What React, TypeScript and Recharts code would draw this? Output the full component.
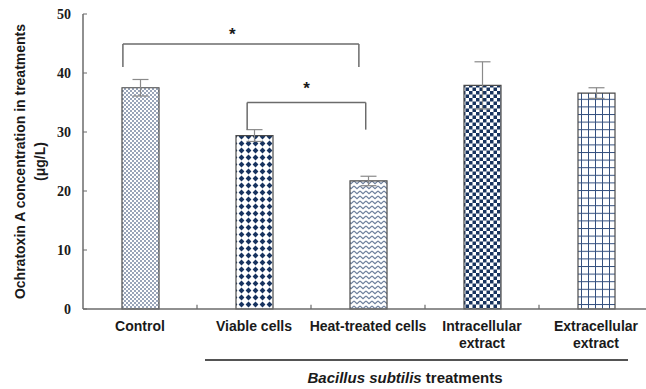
import React from 'react';
import { BarChart, Bar, XAxis, YAxis, Cell, ErrorBar, ReferenceLine, ReferenceDot, Label } from 'recharts';

const categories = ['Control', 'Viable cells', 'Heat-treated cells', 'Intracellular extract', 'Extracellular extract'];
const tickLabelLines = [['Control'], ['Viable cells'], ['Heat-treated cells'], ['Intracellular', 'extract'], ['Extracellular', 'extract']];
const values = [37.5, 29.4, 21.7, 37.9, 36.6];
const errors = [1.4, 1.0, 0.8, 4.0, 0.9];
const positions = [0.5, 1.5, 2.5, 3.5, 4.5];
const patternIds = ['pDots', 'pDiamond', 'pZigzag', 'pChecker', 'pGrid'];
const yTicks = [0, 10, 20, 30, 40, 50];
const categoryBoundaries = [1, 2, 3, 4];
const brackets = [
  { x1: 0.35, x2: 2.42, yTop: 44.9, yBottom: 41.0, starX: 1.31, starY: 46.6 },
  { x1: 1.44, x2: 2.48, yTop: 35.0, yBottom: 30.4, starX: 1.96, starY: 37.4 },
];
const yAxisTitle = ['Ochratoxin A concentration in treatments', '(μg/L)'];
const groupTitleItalic = 'Bacillus subtilis';
const groupTitleRest = ' treatments';

const data = categories.map((name, i) => ({ name, pos: positions[i], value: values[i], err: errors[i] }));

const NAVY = '#17335f';
const AXIS = '#6b6b6b';
const SANS = '"Liberation Sans", Arial, sans-serif';
const SERIF = '"Liberation Serif", "Times New Roman", serif';

const Patterns = () => (
  <svg width={0} height={0} style={{ position: 'absolute' }}>
    <defs>
      <pattern id="pDots" patternUnits="userSpaceOnUse" width={4} height={4}>
        <rect width={4} height={4} fill="#fff" />
        <circle cx={1} cy={1} r={0.8} fill={NAVY} />
        <circle cx={3} cy={3} r={0.8} fill={NAVY} />
      </pattern>
      <pattern id="pDiamond" patternUnits="userSpaceOnUse" width={7} height={7}>
        <rect width={7} height={7} fill="#fff" />
        <polygon points="3.5,0.6 6.4,3.5 3.5,6.4 0.6,3.5" fill={NAVY} />
      </pattern>
      <pattern id="pZigzag" patternUnits="userSpaceOnUse" width={6} height={5}>
        <rect width={6} height={5} fill="#fff" />
        <polyline points="0,1 3,3.6 6,1" fill="none" stroke="#6d7f9c" strokeWidth={1.2} />
      </pattern>
      <pattern id="pChecker" patternUnits="userSpaceOnUse" width={7} height={7}>
        <rect width={7} height={7} fill="#fff" />
        <rect x={0} y={0} width={3.5} height={3.5} fill={NAVY} />
        <rect x={3.5} y={3.5} width={3.5} height={3.5} fill={NAVY} />
      </pattern>
      <pattern id="pGrid" patternUnits="userSpaceOnUse" width={7} height={7.6}>
        <rect width={7} height={7.6} fill="#fff" />
        <line x1={0.5} y1={0} x2={0.5} y2={7.6} stroke="#34507f" strokeWidth={1} />
        <line x1={0} y1={0.5} x2={7} y2={0.5} stroke="#34507f" strokeWidth={1} />
      </pattern>
    </defs>
  </svg>
);

const XTick = (props: any) => {
  const { x, y, payload } = props;
  const idx = categories.indexOf(payload.value);
  const lines = tickLabelLines[idx] || [payload.value];
  return (
    <g>
      {lines.map((ln, i) => (
        <text key={i} x={x} y={y + 22 + i * 17} textAnchor="middle" fontFamily={SANS} fontWeight="bold" fontSize={14} fill="#1a1a1a">
          {ln}
        </text>
      ))}
    </g>
  );
};

const YTick = (props: any) => {
  const { x, y, payload } = props;
  return (
    <g>
      <line x1={x + 12} x2={x + 16} y1={y} y2={y} stroke={AXIS} strokeWidth={1} />
      <text x={x} y={y + 5} textAnchor="end" fontFamily={SERIF} fontWeight="bold" fontSize={14} fill="#1a1a1a">
        {payload.value}
      </text>
    </g>
  );
};

const YTitle = (props: any) => {
  const vb = props.viewBox || { x: 13, y: 14, width: 70, height: 295 };
  const cy = vb.y + vb.height / 2;
  const x1 = vb.x + 7;
  const x2 = vb.x + 27;
  return (
    <g>
      <text x={x1} y={cy} transform={`rotate(-90 ${x1} ${cy})`} textAnchor="middle" dominantBaseline="central" fontFamily={SANS} fontWeight="bold" fontSize={14} fill="#1a1a1a">
        {yAxisTitle[0]}
      </text>
      <text x={x2} y={cy} transform={`rotate(-90 ${x2} ${cy})`} textAnchor="middle" dominantBaseline="central" fontFamily={SANS} fontWeight="bold" fontSize={14} fill="#1a1a1a">
        {yAxisTitle[1]}
      </text>
    </g>
  );
};

const XTitle = (props: any) => {
  const vb = props.viewBox || { x: 83, y: 309, width: 570, height: 60 };
  return (
    <g>
      <line x1={vb.x + 122} x2={vb.x + 545} y1={vb.y + 51} y2={vb.y + 51} stroke="#1a1a1a" strokeWidth={1.5} />
      <text x={vb.x + 322} y={vb.y + 74} textAnchor="middle" fontFamily={SANS} fontWeight="bold" fontSize={15} fill="#1a1a1a">
        <tspan fontStyle="italic">{groupTitleItalic}</tspan>
        <tspan>{groupTitleRest}</tspan>
      </text>
    </g>
  );
};

const StarLabel = (props: any) => {
  const vb = props.viewBox || {};
  const cx = vb.cx ?? vb.x ?? 0;
  const cy = vb.cy ?? vb.y ?? 0;
  return (
    <text x={cx} y={cy + 6} textAnchor="middle" fontFamily={SANS} fontWeight="bold" fontSize={17} fill="#1a1a1a">
      *
    </text>
  );
};

export default function App() {
  return (
    <div style={{ position: 'absolute', left: 0, top: 0, width: 646, height: 389, overflow: 'hidden', background: '#fff' }}>
      <Patterns />
      <BarChart width={660} height={389} data={data} margin={{ top: 14, right: 7, bottom: 20, left: 13 }}>
        <XAxis
          dataKey="name"
          tick={<XTick />}
          tickLine={false}
          tickSize={0}
          tickMargin={0}
          height={60}
          axisLine={{ stroke: AXIS, strokeWidth: 1.5 }}
          interval={0}
        >
          <Label content={<XTitle />} />
        </XAxis>
        <XAxis xAxisId="num" dataKey="pos" type="number" domain={[0, 5]} hide allowDataOverflow />
        <YAxis
          type="number"
          domain={[0, 50]}
          ticks={yTicks}
          width={70}
          tick={<YTick />}
          tickLine={false}
          tickSize={0}
          tickMargin={12}
          axisLine={{ stroke: AXIS, strokeWidth: 1.5 }}
          interval={0}
        >
          <Label content={<YTitle />} />
        </YAxis>
        <Bar dataKey="value" barSize={37} stroke="#4a4a4a" strokeWidth={1.2} isAnimationActive={false}>
          {data.map((d, i) => (
            <Cell key={d.name} fill={`url(#${patternIds[i]})`} />
          ))}
          <ErrorBar dataKey="err" width={8} stroke="#8a8a8a" strokeWidth={1.2} direction="y" />
        </Bar>
        {categoryBoundaries.map((b) => (
          <ReferenceLine
            key={`tb${b}`}
            xAxisId="num"
            segment={[{ x: b, y: 0 }, { x: b, y: 0.7 }]}
            stroke={AXIS}
            strokeWidth={1.2}
            ifOverflow="visible"
          />
        ))}
        {brackets.map((br, i) => (
          <ReferenceLine
            key={`bl${i}`}
            xAxisId="num"
            segment={[{ x: br.x1, y: br.yBottom }, { x: br.x1, y: br.yTop }]}
            stroke="#6b6b6b"
            strokeWidth={1.5}
            ifOverflow="visible"
          />
        ))}
        {brackets.map((br, i) => (
          <ReferenceLine
            key={`bt${i}`}
            xAxisId="num"
            segment={[{ x: br.x1, y: br.yTop }, { x: br.x2, y: br.yTop }]}
            stroke="#6b6b6b"
            strokeWidth={1.5}
            ifOverflow="visible"
          />
        ))}
        {brackets.map((br, i) => (
          <ReferenceLine
            key={`br${i}`}
            xAxisId="num"
            segment={[{ x: br.x2, y: br.yBottom }, { x: br.x2, y: br.yTop }]}
            stroke="#6b6b6b"
            strokeWidth={1.5}
            ifOverflow="visible"
          />
        ))}
        {brackets.map((br, i) => (
          <ReferenceDot
            key={`st${i}`}
            xAxisId="num"
            x={br.starX}
            y={br.starY}
            r={0}
            fill="none"
            stroke="none"
            ifOverflow="visible"
            label={<StarLabel />}
          />
        ))}
      </BarChart>
    </div>
  );
}
